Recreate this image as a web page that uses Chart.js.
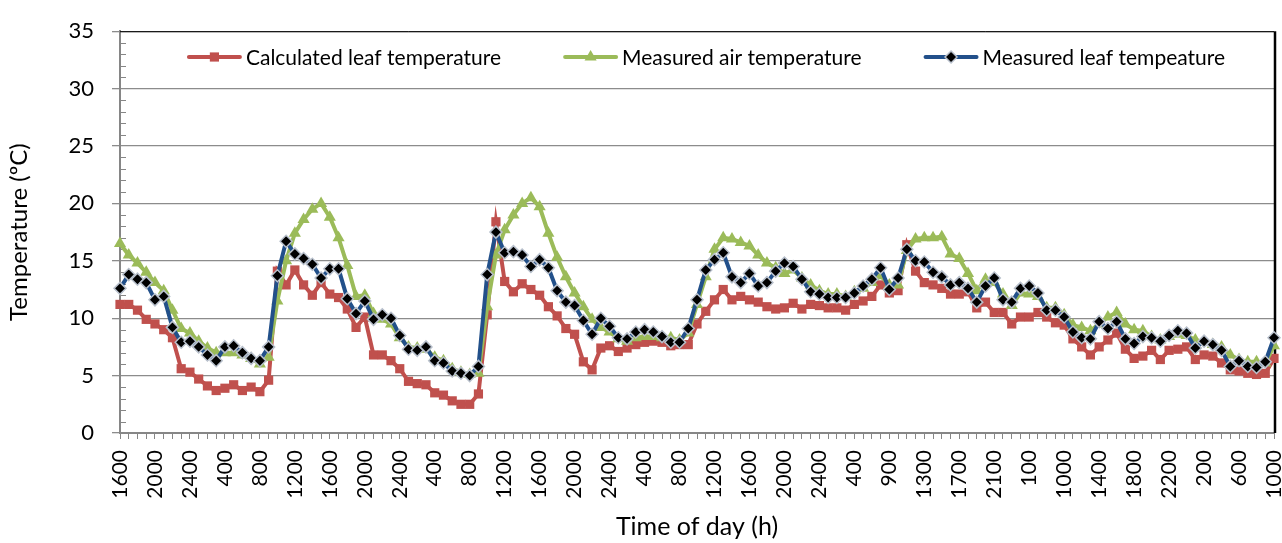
<!DOCTYPE html>
<html>
<head>
<meta charset="utf-8">
<script src="https://cdn.jsdelivr.net/npm/chart.js@4.4.1/dist/chart.umd.min.js"></script>
<style>
  body { margin: 0; background: #fff; }
  #wrap { width: 1282px; height: 543px; }
</style>
</head>
<body>
<div id="wrap"><canvas id="myChart" width="1282" height="543"></canvas></div>
<script>
// tick labels shown every 4th reading on the x axis
const tickLabels = ["1600", "2000", "2400", "400", "800", "1200", "1600", "2000", "2400", "400", "800", "1200",
  "1600", "2000", "2400", "400", "800", "1200", "1600", "2000", "2400", "400", "900", "1300", "1700", "2100",
  "100", "1000", "1400", "1800", "2200", "200", "600", "1000"];

const calcLeaf = [11.2, 11.2, 10.7, 9.9, 9.5, 9.0, 8.3, 5.6, 5.3, 4.7, 4.1, 3.7, 3.9, 4.2, 3.7, 4.0, 3.6, 4.6,
  14.1, 12.9, 14.2, 12.9, 12.0, 13.1, 12.1, 11.8, 10.8, 9.2, 10.1, 6.8, 6.8, 6.3, 5.6, 4.5, 4.3, 4.2, 3.5, 3.3,
  2.8, 2.5, 2.5, 3.4, 10.3, 18.4, 13.2, 12.3, 13.0, 12.5, 12.0, 11.0, 10.2, 9.1, 8.6, 6.2, 5.5, 7.4, 7.6, 7.1,
  7.4, 7.7, 7.9, 8.0, 7.9, 7.6, 7.7, 7.7, 9.5, 10.6, 11.6, 12.5, 11.6, 11.9, 11.6, 11.4, 11.0, 10.8, 10.9, 11.3,
  10.8, 11.2, 11.1, 10.9, 10.9, 10.7, 11.2, 11.5, 11.9, 12.9, 12.2, 12.4, 16.4, 14.1, 13.1, 12.9, 12.6, 12.1,
  12.1, 12.3, 10.9, 11.4, 10.5, 10.5, 9.5, 10.1, 10.1, 10.5, 10.1, 9.6, 9.4, 8.2, 7.5, 6.8, 7.5, 8.1, 8.7, 7.3,
  6.5, 6.7, 7.2, 6.4, 7.2, 7.3, 7.5, 6.4, 6.8, 6.7, 6.1, 5.5, 5.4, 5.2, 5.1, 5.2, 6.5];

const airTemp = [16.5, 15.5, 14.8, 14.0, 13.1, 12.4, 10.7, 9.1, 8.7, 8.0, 7.4, 7.0, 7.0, 7.0, 6.8, 6.5, 6.0, 6.6,
  11.5, 15.0, 17.4, 18.6, 19.5, 20.0, 18.8, 17.0, 14.6, 11.9, 12.0, 10.4, 9.9, 9.5, 8.3, 7.5, 7.4, 7.3, 6.6, 6.3,
  5.6, 5.3, 5.1, 5.2, 11.0, 15.5, 17.7, 19.0, 20.0, 20.5, 19.7, 17.4, 15.3, 13.6, 12.2, 11.0, 9.9, 9.2, 8.8, 8.2,
  8.0, 8.3, 8.4, 8.4, 8.3, 8.3, 8.1, 8.7, 11.2, 13.6, 16.0, 17.0, 16.9, 16.6, 16.3, 15.5, 14.8, 14.4, 13.9, 14.2,
  13.5, 12.9, 12.4, 12.1, 12.1, 11.9, 12.3, 12.6, 13.1, 13.7, 12.9, 12.9, 15.9, 16.9, 17.0, 17.0, 17.1, 15.6,
  15.2, 13.9, 12.4, 13.4, 13.1, 12.1, 11.1, 12.2, 12.1, 11.9, 10.9, 10.9, 10.3, 9.4, 9.2, 8.9, 9.5, 10.1, 10.5,
  9.5, 9.0, 8.9, 8.4, 8.1, 8.4, 8.6, 8.5, 8.1, 7.9, 7.7, 7.5, 6.8, 6.4, 6.2, 6.2, 6.1, 7.6];

const measLeaf = [12.6, 13.8, 13.4, 13.1, 11.6, 11.9, 9.2, 7.9, 8.0, 7.5, 6.8, 6.3, 7.5, 7.6, 7.0, 6.5, 6.3, 7.5,
  13.7, 16.7, 15.6, 15.2, 14.7, 13.5, 14.3, 14.3, 11.7, 10.4, 11.5, 9.9, 10.3, 10.0, 8.5, 7.3, 7.2, 7.5, 6.3, 6.1,
  5.4, 5.2, 5.0, 5.8, 13.8, 17.5, 15.7, 15.8, 15.5, 14.5, 15.1, 14.4, 12.4, 11.4, 11.1, 9.8, 8.6, 10.0, 9.3, 8.3,
  8.2, 8.8, 9.0, 8.8, 8.4, 7.9, 7.9, 9.1, 11.6, 14.2, 15.1, 15.7, 13.6, 13.1, 13.9, 12.8, 13.1, 14.1, 14.8, 14.5,
  13.4, 12.3, 12.1, 11.8, 11.8, 11.8, 12.2, 12.8, 13.4, 14.4, 12.5, 13.5, 16.0, 15.0, 14.9, 14.0, 13.6, 12.9,
  13.1, 12.6, 11.4, 12.8, 13.5, 11.6, 11.4, 12.6, 12.8, 12.2, 10.7, 10.7, 10.1, 8.8, 8.3, 8.2, 9.7, 9.1, 9.7,
  8.2, 7.8, 8.4, 8.3, 8.0, 8.5, 8.9, 8.7, 7.4, 8.0, 7.7, 7.2, 5.8, 6.3, 5.8, 5.7, 6.2, 8.3];

// one category per reading, labelled every 4th
const hours = calcLeaf.map((v, i) => (i % 4 === 0 ? tickLabels[i / 4] : ""));

const FONT = "Lato";
Chart.defaults.font.family = FONT;
Chart.defaults.color = "#000";

// minor ticks on the y axis + black plot border on top/right
const frame = {
  id: "frame",
  beforeDatasetsDraw(chart) {
    const ctx = chart.ctx;
    const a = chart.chartArea;
    const y = chart.scales.y;
    ctx.save();
    ctx.strokeStyle = "#868686";
    ctx.lineWidth = 1;
    for (let v = 1; v < 35; v++) {
      if (v % 5 === 0) continue;
      const py = Math.round(y.getPixelForValue(v)) + 0.5;
      ctx.beginPath();
      ctx.moveTo(a.left, py);
      ctx.lineTo(a.left + 6, py);
      ctx.stroke();
    }
    ctx.strokeStyle = "#000";
    ctx.lineWidth = 1;
    ctx.beginPath();
    ctx.moveTo(a.left, a.top + 0.5);
    ctx.lineTo(a.right, a.top + 0.5);
    ctx.stroke();
    ctx.lineWidth = 2.5;
    ctx.beginPath();
    ctx.moveTo(a.right + 1, a.top);
    ctx.lineTo(a.right + 1, a.bottom);
    ctx.stroke();
    ctx.restore();
  }
};

function marker(ctx, style, x, y, ds) {
  ctx.fillStyle = ds.pointBackgroundColor;
  ctx.strokeStyle = ds.pointBorderColor;
  ctx.lineWidth = ds.pointBorderWidth;
  const r = ds.pointRadius;
  ctx.beginPath();
  if (style === "rect") {
    const s = Math.SQRT1_2 * r;
    ctx.rect(x - s, y - s, 2 * s, 2 * s);
  } else if (style === "triangle") {
    ctx.moveTo(x, y - r);
    ctx.lineTo(x + r * 0.866, y + r * 0.5);
    ctx.lineTo(x - r * 0.866, y + r * 0.5);
    ctx.closePath();
  } else {
    ctx.moveTo(x, y - r);
    ctx.lineTo(x + r, y);
    ctx.lineTo(x, y + r);
    ctx.lineTo(x - r, y);
    ctx.closePath();
  }
  ctx.fill();
  if (ds.pointBorderWidth) ctx.stroke();
}

// legend drawn inside the plot area like the original
const innerLegend = {
  id: "innerLegend",
  afterDraw(chart) {
    const ctx = chart.ctx;
    const a = chart.chartArea;
    const lineLen = 55, textGap = 4, gap = 62, yMid = 57;
    ctx.save();
    ctx.font = "21px " + FONT;
    const items = chart.data.datasets.map(ds => ({ ds, w: ctx.measureText(ds.label).width }));
    let total = items.reduce((s, it) => s + lineLen + textGap + it.w, 0) + gap * (items.length - 1);
    let x = (a.left + a.right) / 2 + 9 - total / 2;
    items.forEach(it => {
      const ds = it.ds;
      ctx.strokeStyle = ds.borderColor;
      ctx.lineWidth = ds.borderWidth;
      ctx.lineCap = "round";
      ctx.beginPath();
      ctx.moveTo(x + 2, yMid);
      ctx.lineTo(x + lineLen - 2, yMid);
      ctx.stroke();
      marker(ctx, ds.pointStyle, x + lineLen / 2, yMid, ds);
      ctx.fillStyle = "#000";
      ctx.textBaseline = "middle";
      ctx.textAlign = "left";
      ctx.fillText(ds.label, x + lineLen + textGap, yMid + 1);
      x += lineLen + textGap + it.w + gap;
    });
    ctx.restore();
  }
};

const ctx1 = document.getElementById("myChart").getContext("2d");
const myChart = new Chart(ctx1, {
  type: "line",
  data: {
    labels: hours,
    datasets: [
      {
        label: "Calculated leaf temperature",
        data: calcLeaf,
        borderColor: "#C0504D",
        borderWidth: 4,
        pointStyle: "rect",
        pointRadius: 6.5,
        pointBackgroundColor: "#C0504D",
        pointBorderColor: "#C0504D",
        pointBorderWidth: 0,
        order: 3,
        clip: false
      },
      {
        label: "Measured air temperature",
        data: airTemp,
        borderColor: "#9BBB59",
        borderWidth: 4,
        pointStyle: "triangle",
        pointRadius: 7,
        pointBackgroundColor: "#9BBB59",
        pointBorderColor: "#9BBB59",
        pointBorderWidth: 0,
        order: 2,
        clip: false
      },
      {
        label: "Measured leaf tempeature",
        data: measLeaf,
        borderColor: "#22508A",
        borderWidth: 4,
        pointStyle: "rectRot",
        pointRadius: 6,
        pointBackgroundColor: "#000",
        pointBorderColor: "#b8c0cc",
        pointBorderWidth: 1.5,
        order: 1,
        clip: false
      }
    ]
  },
  options: {
    responsive: false,
    animation: false,
    devicePixelRatio: 1,
    layout: { padding: { left: 0, right: 8, top: 22, bottom: 0 } },
    plugins: {
      legend: { display: false },
      tooltip: { enabled: false }
    },
    elements: { line: { tension: 0 } },
    scales: {
      x: {
        offset: false,
        grid: { drawOnChartArea: false, drawTicks: true, tickLength: 6, color: "#868686" },
        border: { color: "#868686", width: 2 },
        ticks: {
          autoSkip: false,
          minRotation: 90,
          maxRotation: 90,
          padding: 11,
          font: { size: 21 }
        },
        title: {
          display: true,
          text: "Time of day (h)",
          font: { size: 25 },
          padding: { top: 0, bottom: 1 }
        },
        afterFit(scale) {
          scale.height = 110;
          scale.paddingLeft = 0;
          scale.paddingRight = 0;
        }
      },
      y: {
        min: 0,
        max: 35,
        ticks: { stepSize: 5, padding: 18, font: { size: 22 } },
        grid: { color: "#8c8c8c", lineWidth: 1.3, tickLength: 8 },
        border: { color: "#868686", width: 2 },
        title: {
          display: true,
          text: "Temperature (ºC)",
          font: { size: 24 },
          padding: { top: 5, bottom: 0 }
        },
        afterFit(scale) {
          scale.width = 120;
        }
      }
    }
  },
  plugins: [frame, innerLegend]
});
</script>
</body>
</html>
